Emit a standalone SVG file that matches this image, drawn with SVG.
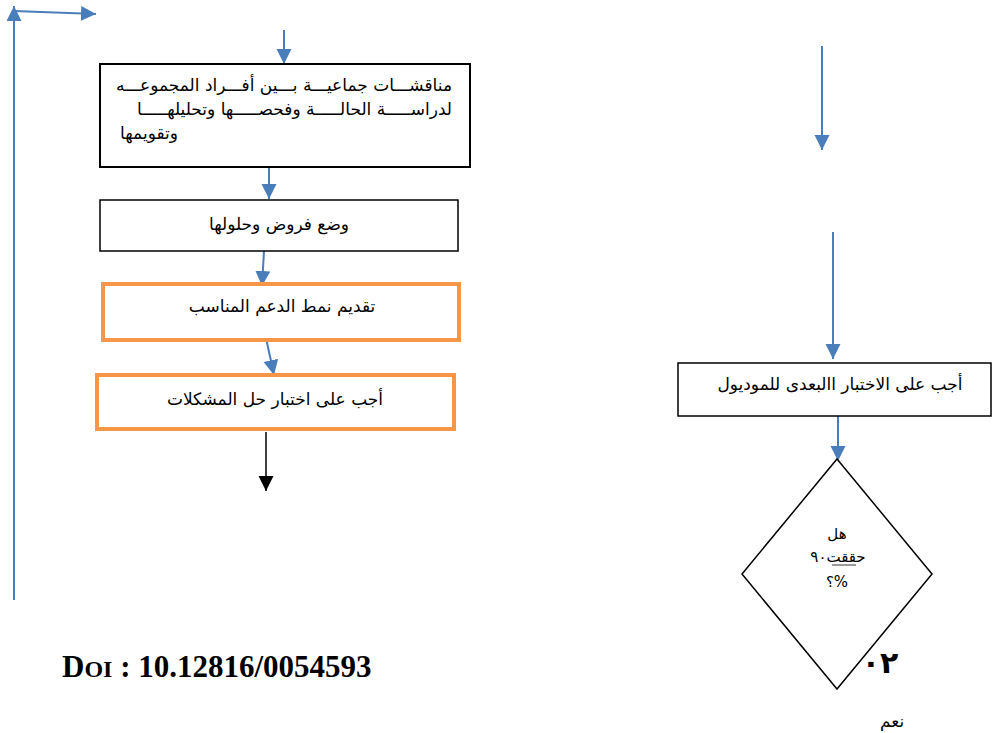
<svg xmlns="http://www.w3.org/2000/svg" width="992" height="733" viewBox="0 0 992 733">
<style>
.box{fill:#fff;stroke:#000;stroke-width:1.5}
.box1{fill:#fff;stroke:#000;stroke-width:2}
.obox{fill:#fff;stroke:#F79646;stroke-width:4}
.t{font-family:"DejaVu Sans","Liberation Sans",sans-serif;font-size:17px;fill:#000}
.s{font-size:15px}
.blue{stroke:#4A7EBB;stroke-width:2;fill:none}
.blk{stroke:#000;stroke-width:1.5;fill:none}
</style>
<defs>
<marker id="ab" markerUnits="userSpaceOnUse" markerWidth="16" markerHeight="16" refX="15" refY="7.5" orient="auto"><path d="M0,0 L15,7.5 L0,15 Z" fill="#4A7EBB"/></marker>
<marker id="ak" markerUnits="userSpaceOnUse" markerWidth="16" markerHeight="16" refX="15" refY="7.5" orient="auto"><path d="M0,0 L15,7.5 L0,15 Z" fill="#000"/></marker>
</defs>
<rect width="992" height="733" fill="#fff"/>
<g id="connectors">
<line class="blue" x1="14" y1="600" x2="14" y2="6" marker-end="url(#ab)"/>
<line class="blue" x1="14" y1="11" x2="96" y2="14" marker-end="url(#ab)"/>
<line class="blue" x1="284" y1="30" x2="284" y2="64" marker-end="url(#ab)"/>
<line class="blue" x1="269" y1="167" x2="269" y2="199" marker-end="url(#ab)"/>
<line class="blue" x1="264" y1="251" x2="262" y2="286" marker-end="url(#ab)"/>
<line class="blue" x1="266" y1="338" x2="274" y2="375" marker-end="url(#ab)"/>
<line class="blk" x1="266" y1="432" x2="266" y2="491" marker-end="url(#ak)"/>
<line class="blue" x1="822" y1="46" x2="822" y2="150" marker-end="url(#ab)"/>
<line class="blue" x1="833" y1="232" x2="833" y2="359" marker-end="url(#ab)"/>
<line class="blue" x1="838" y1="416" x2="838" y2="461" marker-end="url(#ab)"/>
</g>
<g id="n1">
<rect class="box1" x="100" y="64" width="370" height="103"/>
<text class="t" direction="rtl" x="452" y="91">مناقشـــات جماعيـــة بـــين أفـــراد المجموعـــه</text>
<text class="t" direction="rtl" x="452" y="115">لدراســـــة الحالـــــة وفحصـــــها وتحليلهـــــا</text>
<text class="t" direction="rtl" x="178" y="139">وتقويمها</text>
</g>
<g id="n2">
<rect class="box" x="100" y="200" width="358" height="51"/>
<text class="t" direction="rtl" text-anchor="middle" x="279" y="230">وضع فروض وحلولها</text>
</g>
<g id="n3">
<rect class="obox" x="103" y="284" width="356" height="56"/>
<text class="t" direction="rtl" text-anchor="middle" x="282" y="312">تقديم نمط  الدعم المناسب</text>
</g>
<g id="n4">
<rect class="obox" x="97" y="375" width="357" height="54"/>
<text class="t" direction="rtl" text-anchor="middle" x="275" y="405">أجب على اختبار حل المشكلات</text>
</g>
<g id="n5">
<rect class="box" x="678" y="363" width="313" height="53"/>
<text class="t" direction="rtl" text-anchor="middle" x="840" y="390">أجب على الاختبار االبعدى للموديول</text>
</g>
<g id="n6">
<polygon points="837,459 932,574 837,689 742,574" fill="#fff" stroke="#000" stroke-width="1.5"/>
<text class="t s" direction="rtl" text-anchor="middle" x="837" y="539">هل</text>
<text class="t s" direction="rtl" text-anchor="middle" x="838" y="562">حققت٩٠</text>
<line x1="832" y1="565" x2="856" y2="565" stroke="#000" stroke-width="0.8"/>
<text class="t s" direction="rtl" text-anchor="middle" x="837" y="587">%؟</text>
</g>
<text x="880" y="673" text-anchor="middle" font-family="'DejaVu Sans',sans-serif" font-weight="bold" font-size="30">٠٢</text>
<text class="t" direction="rtl" text-anchor="middle" x="892" y="727">نعم</text>
<text x="62" y="677" font-family="'Liberation Serif',serif" font-weight="bold" font-size="31" fill="#000">D<tspan font-size="24">OI</tspan> : 10.12816/0054593</text>
</svg>
